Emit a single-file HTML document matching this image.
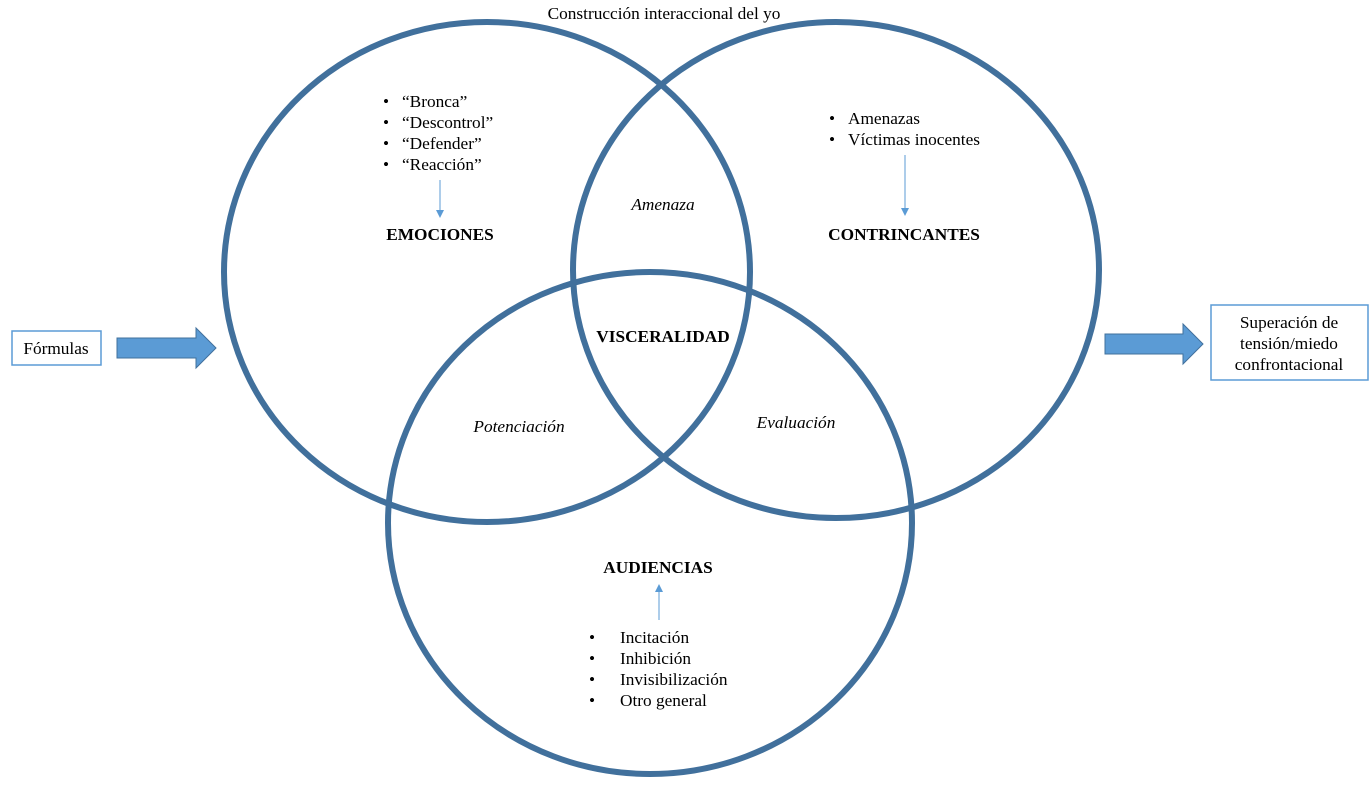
<!DOCTYPE html>
<html><head><meta charset="utf-8"><style>
body{margin:0;width:1371px;height:780px;background:#fff;overflow:hidden}
svg text{font-family:"Liberation Serif",serif;font-size:17.3px;fill:#000}
.b{font-weight:bold}.i{font-style:italic}
</style></head><body>
<svg width="1371" height="780" xmlns="http://www.w3.org/2000/svg">
<g fill="none" stroke="#41709c" stroke-width="6">
<ellipse cx="487" cy="272" rx="263" ry="250"/>
<ellipse cx="836" cy="270" rx="263" ry="248"/>
<ellipse cx="650" cy="523" rx="262" ry="251"/>
</g>
<text x="664" y="19" text-anchor="middle">Construcción interaccional del yo</text>
<g>
<text x="383" y="107">•</text><text x="402" y="107">“Bronca”</text>
<text x="383" y="128">•</text><text x="402" y="128">“Descontrol”</text>
<text x="383" y="149">•</text><text x="402" y="149">“Defender”</text>
<text x="383" y="170">•</text><text x="402" y="170">“Reacción”</text>
</g>
<line x1="440" y1="180" x2="440" y2="212" stroke="#5b9bd5" stroke-width="1"/>
<polygon points="436,210 444,210 440,218" fill="#5b9bd5"/>
<text x="440" y="240" text-anchor="middle" class="b">EMOCIONES</text>
<text x="829" y="124">•</text><text x="848" y="124">Amenazas</text>
<text x="829" y="145">•</text><text x="848" y="145">Víctimas inocentes</text>
<line x1="905" y1="155" x2="905" y2="210" stroke="#5b9bd5" stroke-width="1"/>
<polygon points="901,208 909,208 905,216" fill="#5b9bd5"/>
<text x="904" y="240" text-anchor="middle" class="b">CONTRINCANTES</text>
<text x="663" y="210" text-anchor="middle" class="i">Amenaza</text>
<text x="663" y="342" text-anchor="middle" class="b">VISCERALIDAD</text>
<text x="519" y="432" text-anchor="middle" class="i">Potenciación</text>
<text x="796" y="428" text-anchor="middle" class="i">Evaluación</text>
<text x="658" y="573" text-anchor="middle" class="b">AUDIENCIAS</text>
<line x1="659" y1="592" x2="659" y2="620" stroke="#5b9bd5" stroke-width="1"/>
<polygon points="655,592 663,592 659,584" fill="#5b9bd5"/>
<text x="589" y="643">•</text><text x="620" y="643">Incitación</text>
<text x="589" y="664">•</text><text x="620" y="664">Inhibición</text>
<text x="589" y="685">•</text><text x="620" y="685">Invisibilización</text>
<text x="589" y="706">•</text><text x="620" y="706">Otro general</text>
<rect x="12" y="331" width="89" height="34" fill="#fff" stroke="#5b9bd5" stroke-width="1.5"/>
<text x="56" y="354" text-anchor="middle">Fórmulas</text>
<polygon points="117,338 196,338 196,328 216,348 196,368 196,358 117,358" fill="#5b9bd5" stroke="#41709c" stroke-width="1"/>
<polygon points="1105,334 1183,334 1183,324 1203,344 1183,364 1183,354 1105,354" fill="#5b9bd5" stroke="#41709c" stroke-width="1"/>
<rect x="1211" y="305" width="157" height="75" fill="#fff" stroke="#5b9bd5" stroke-width="1.5"/>
<text x="1289" y="328" text-anchor="middle">Superación de</text>
<text x="1289" y="349" text-anchor="middle">tensión/miedo</text>
<text x="1289" y="370" text-anchor="middle">confrontacional</text>
</svg>
</body></html>
